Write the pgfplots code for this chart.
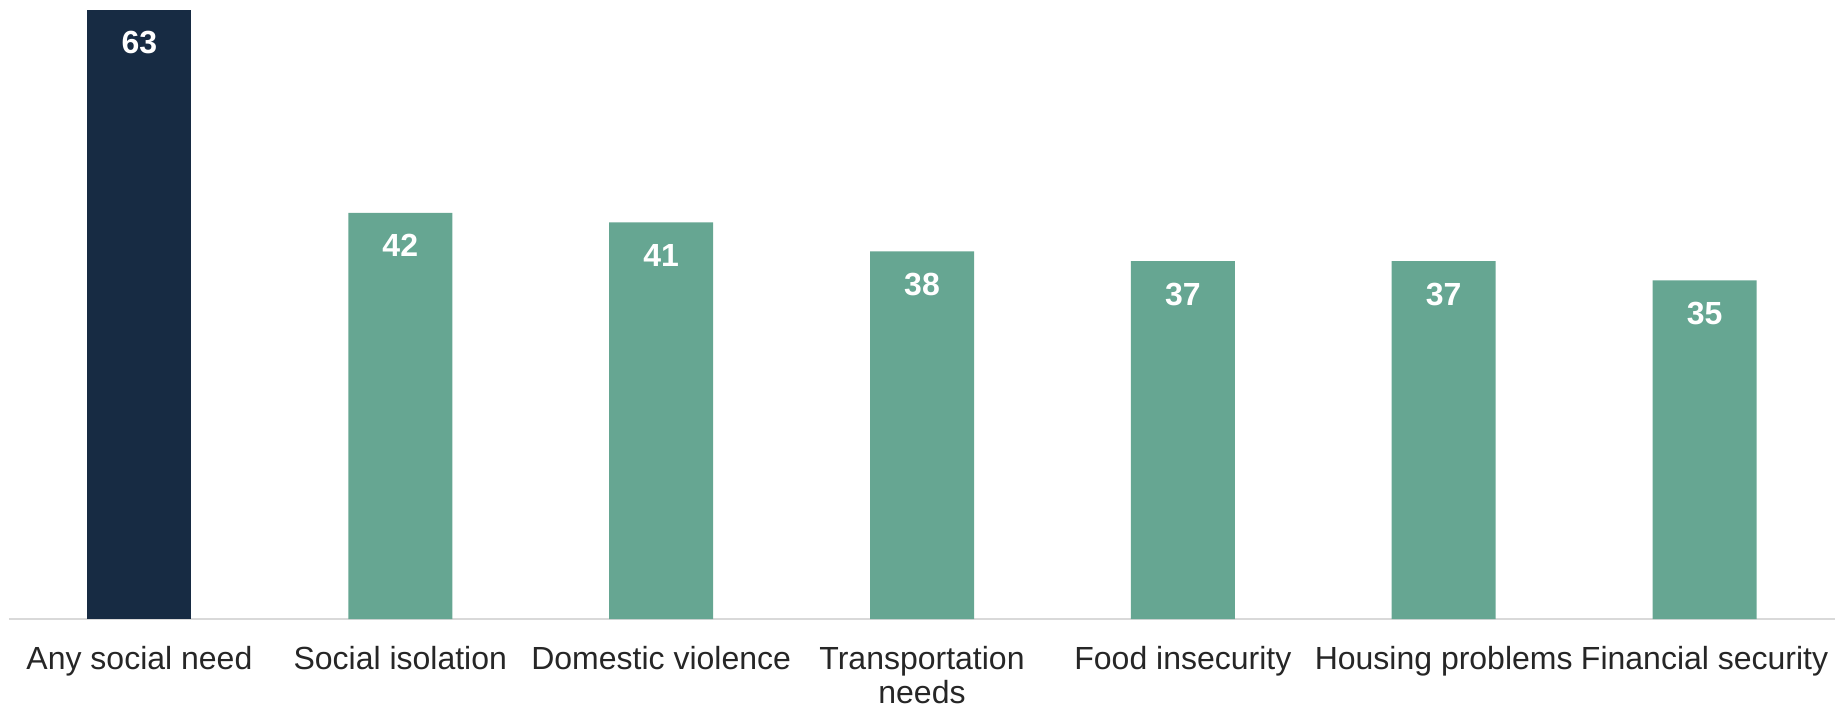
\documentclass[border=0pt]{standalone}
\usepackage{fontspec}
\setmainfont{Liberation Sans}
\usepackage{pgfplots}
\pgfplotsset{compat=1.18}
\definecolor{barnavy}{RGB}{23,43,67}
\definecolor{bargreen}{RGB}{102,166,146}
\definecolor{axisgray}{RGB}{217,217,217}
\begin{document}
\begin{tikzpicture}
\useasboundingbox (0,0) rectangle (917.5pt,353.5pt);
\begin{axis}[
  at={(4.5pt,44pt)}, anchor=south west,
  width=913pt, height=309.5pt, scale only axis,
  xmin=-0.5, xmax=6.5, ymin=0, ymax=64,
  ybar, bar width=52pt,
  axis y line=none,
  axis x line*=bottom,
  x axis line style={axisgray, line width=1pt, -},
  ytick=\empty,
  xtick={0,...,6},
  xticklabels={Any social need, Social isolation, Domestic violence, {Transportation\\needs}, Food insecurity, Housing problems, Financial security},
  major tick length=0pt,
  xticklabel style={font=\fontsize{16}{17}\selectfont, align=center, anchor=north, inner sep=0pt, yshift=-13.5pt, text=black!85},
  /pgf/number format/assume math mode=true,
  nodes near coords,
  every node near coord/.append style={font=\bfseries\fontsize{16}{18}\selectfont, text=white, anchor=center, yshift=-16.5pt},
  clip=false,
]
\addplot[fill=barnavy, draw=none, bar shift=0pt] coordinates {(0,63)};
\addplot[fill=bargreen, draw=none, bar shift=0pt] coordinates {(1,42) (2,41) (3,38) (4,37) (5,37) (6,35)};
\end{axis}
\end{tikzpicture}
\end{document}
